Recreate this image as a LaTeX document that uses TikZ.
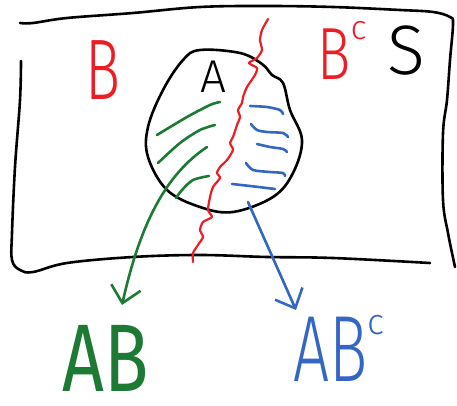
\documentclass[tikz,border=0pt]{standalone}
\usepackage{fontspec}
\setmainfont{Fira Sans}
\newfontfamily\handlight{Fira Sans Light}
\usetikzlibrary{arrows.meta}
\definecolor{pred}{RGB}{236,30,36}
\definecolor{pgreen}{RGB}{28,122,52}
\definecolor{pblue}{RGB}{52,102,196}
\tikzset{
  pen/.style={line width=2.6pt, line cap=round, line join=round},
  lbl/.style={inner sep=0pt, anchor=base},
  barb/.style={-{Straight Barb[length=16pt,width=30pt,line width=2.6pt]}},
}
\begin{document}
\begin{tikzpicture}[x=1pt,y=-1pt]
\useasboundingbox (0,0) rectangle (457,406);
% frame
\draw[pen] plot[smooth, tension=0.6] coordinates {(20,23) (33,23) (67,18) (133,13) (200,7) (267,6) (333,7) (400,10) (433,12) (450,17) (453,24) (450,60) (447,100) (443,133) (443,200) (448,233) (455,267)};
\draw[pen] plot[smooth, tension=0.6] coordinates {(21,61) (20,100) (15,167) (12,233) (12,260) (20,270) (33,272) (67,263) (133,257) (200,255) (267,257) (333,258) (430,263)};
% set A
\draw[pen] plot[smooth cycle, tension=0.6] coordinates {(200,50) (240,53) (262,64) (272,75) (283,83) (290,110) (302,140) (293,173) (273,197) (233,212) (200,207) (167,190) (148,157) (148,127) (163,90) (183,60)};
% red boundary of B
\draw[pen, pred, line width=2.2pt] plot[tension=0.4, smooth] coordinates {(268,19) (262,30) (260,40) (262,50) (257,58) (249,63) (257,68) (255,75) (247,87) (243,97) (242,103) (238,110) (240,117) (237,125) (233,137) (230,143) (233,150) (227,160) (220,167) (217,173) (220,178) (213,187) (210,197) (208,210) (212,217) (203,222) (200,230) (203,237) (198,245) (193,253) (193,262)};
% labels
\node[lbl, pred, font=\handlight\fontsize{86}{86}\selectfont] (B) at (103,100) {\scalebox{0.68}[1]{B}};
\node[lbl, pred, font=\handlight\fontsize{74}{74}\selectfont] (Bc) at (342,80) {\scalebox{0.75}[1]{B}\raisebox{0.55em}{\fontsize{34}{34}\selectfont c}};
\node[lbl, font=\handlight\fontsize{70}{70}\selectfont] (S) at (406,75) {S};
\node[lbl, font=\handlight\fontsize{46}{46}\selectfont] (A) at (213,93) {A};
% green hatching
\draw[pen, pgreen] plot[smooth] coordinates {(157,135) (187,117) (210,105) (220,102)};
\draw[pen, pgreen] plot[smooth] coordinates {(158,163) (180,143) (200,130) (215,125)};
\draw[pen, pgreen] plot[smooth] coordinates {(209,176) (193,180) (182,190) (176,198)};
% blue hatching
\draw[pen, pblue] plot[smooth] coordinates {(250,106) (267,107) (280,110) (283,114)};
\draw[pen, pblue] plot[smooth] coordinates {(251,124) (257,130) (267,132) (283,133) (288,137)};
\draw[pen, pblue] plot[smooth] coordinates {(257,144) (270,147) (283,149) (287,152)};
\draw[pen, pblue] plot[smooth] coordinates {(246,163) (253,170) (270,172) (283,173) (285,176)};
\draw[pen, pblue] plot[smooth] coordinates {(232,184) (250,186) (275,189)};
% result labels
\node[lbl, pgreen, font=\fontsize{96}{96}\selectfont] (AB) at (106,391) {\scalebox{0.76}[1]{AB}};
\node[lbl, pblue, font=\handlight\fontsize{94}{94}\selectfont] (ABc) at (339,381) {\scalebox{0.68}[1]{AB}\raisebox{0.5em}{\fontsize{36}{36}\selectfont c}};
% arrows
\coordinate (gs) at (207,147);
\coordinate (gt) at (122,305);
\coordinate (bs) at (248,202);
\coordinate (bt) at (296,310);
\draw[pen, pgreen, barb] (gs) .. controls (165,175) and (140,225) .. (gt);
\draw[pen, pblue, barb] (bs) -- (bt);
\end{tikzpicture}
\end{document}
